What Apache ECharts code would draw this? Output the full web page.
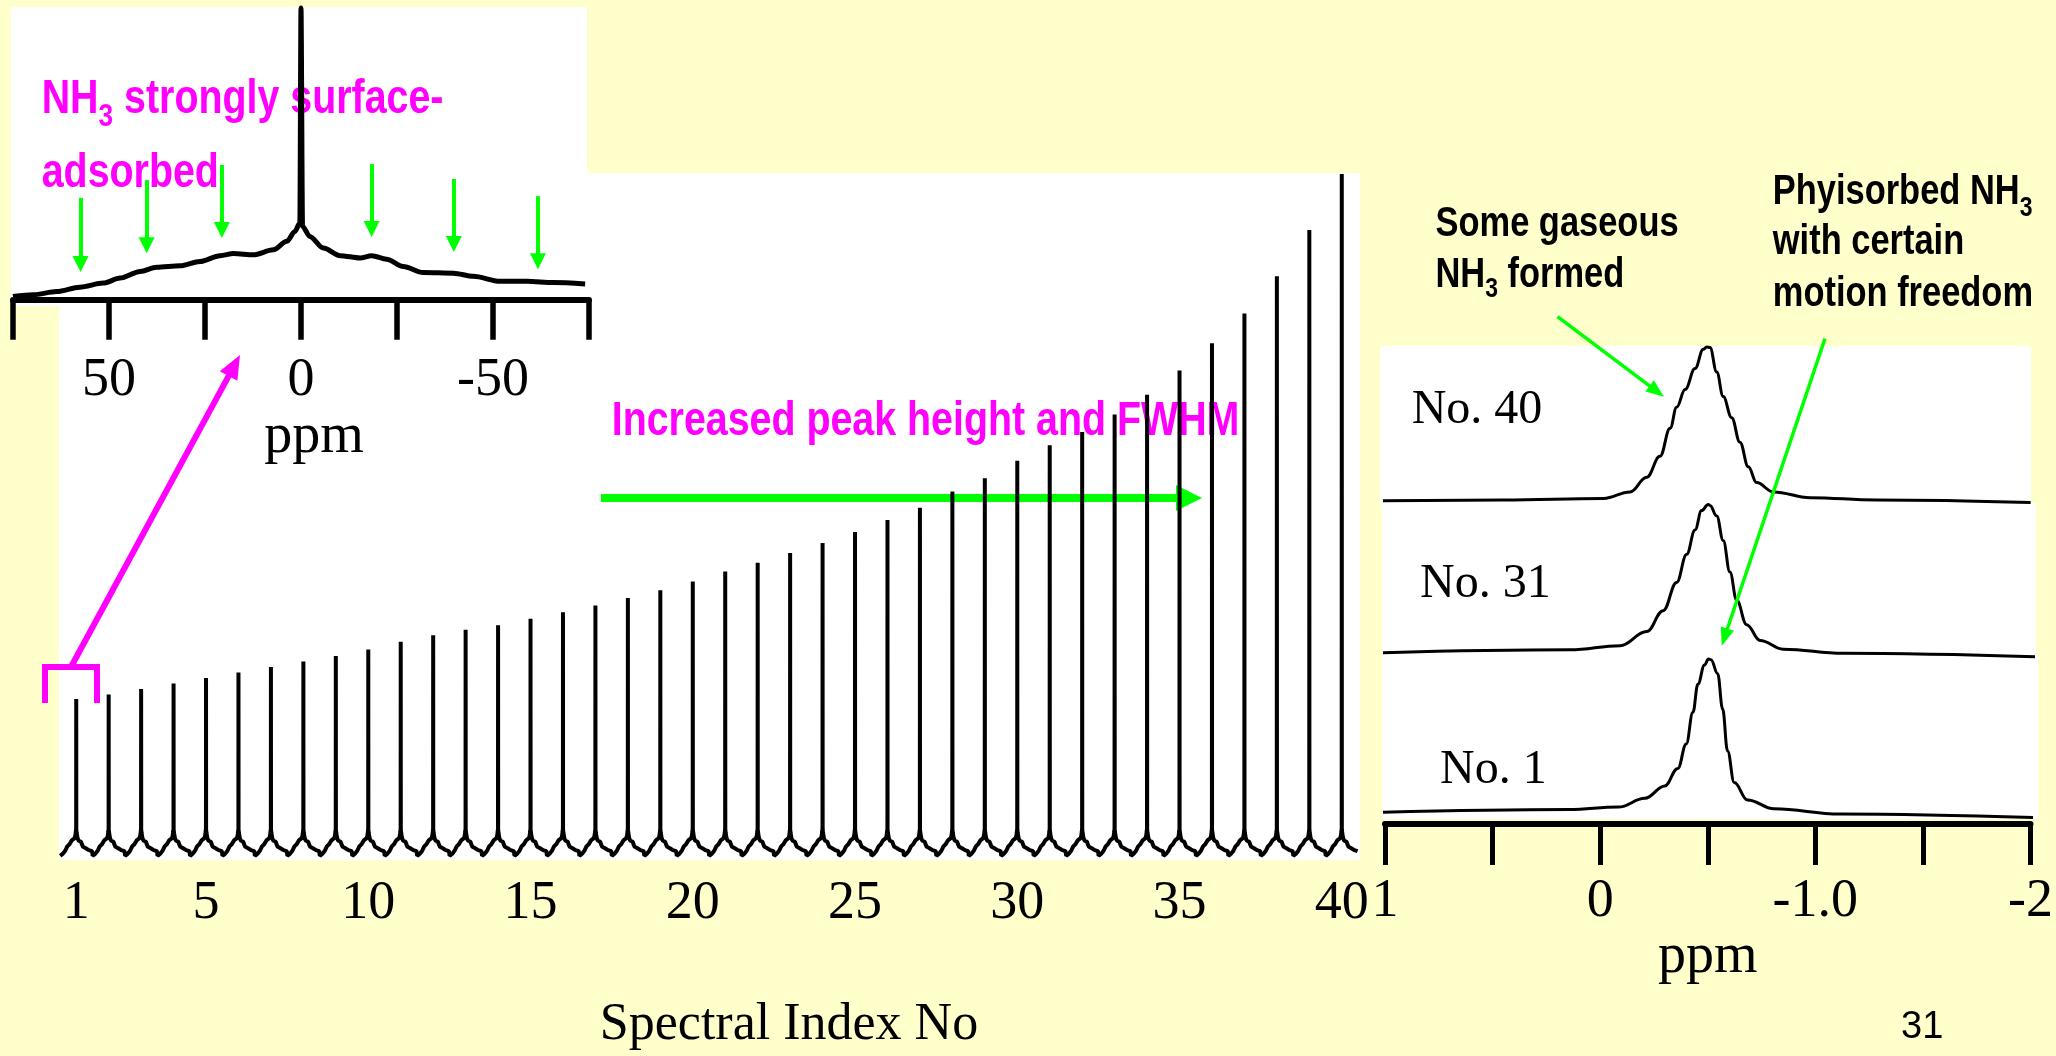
<!DOCTYPE html>
<html><head><meta charset="utf-8">
<script src="https://cdn.jsdelivr.net/npm/echarts@6/dist/echarts.min.js"></script>
<style>html,body{margin:0;padding:0;background:#FFFFCC}#chart{width:2056px;height:1056px}</style>
</head><body><div id="chart"></div>
<script>
// ---------------- data ----------------
const spectrumIndex = [1,2,3,4,5,6,7,8,9,10,11,12,13,14,15,16,17,18,19,20,21,22,23,24,25,26,27,28,29,30,31,32,33,34,35,36,37,38,39,40];
const peakHeights = [144,148,153,158,163,168,173,178,183,189,196,202,207,211,217,223,229,236,243,251,260,268,277,286,296,307,318,333,345,361,375,387,403,421,443,468,495,529,571,622];
const indexTickLabels = [1,5,10,15,20,25,30,35,40];

// inset spectrum (ppm, relative intensity)
const insetPpm = [75,69.7,63.6,57.6,51.5,47.1,41.9,37.6,31.5,26.3,21.1,17.6,12.4,7.2,3.7,1.6,0.3,0,-0.4,-2.3,-5.8,-10.2,-15.4,-18.4,-22.3,-26.6,-31.8,-39.7,-44.9,-51.8,-58.8,-65.7,-74];
const insetIntensity = [1.1,1.7,2.8,4.3,5.7,7.4,9.7,11.1,11.6,13.1,15.1,15.8,15.4,17.1,20.0,23.4,26.3,100,25.1,21.7,17.7,15.1,14.3,15.1,13.9,11.4,9.3,9.1,8.0,6.3,6.3,5.9,5.4];
const insetTickValues = [75,50,25,0,-25,-50,-75];
const insetLabelValues = [50,0,-50];
const insetArrowPpm = [57.4,40.2,20.6,-18.4,-39.8,-61.7];
const insetArrowFrom = [34.9,41.0,46.2,46.5,41.4,35.5];
const insetArrowTo = [12.2,18.7,23.9,24.2,19.1,13.2];

// right panel spectra (ppm, relative intensity)
const no40Ppm = [1.02,0.454,-0.008,-0.131,-0.208,-0.269,-0.316,-0.346,-0.385,-0.431,-0.469,-0.485,-0.500,-0.531,-0.561,-0.600,-0.638,-0.677,-0.715,-0.792,-0.962,-1.269,-1.98];
const no40Int = [1.4,1.9,2.9,7.1,16.5,29.9,47.9,61.4,72.7,86.2,98.5,100,99.7,83.9,68.2,54.7,39.0,23.2,13.1,7.1,3.4,1.9,0.3];
const no31Ppm = [1.015,0.146,-0.085,-0.208,-0.284,-0.346,-0.392,-0.431,-0.461,-0.492,-0.500,-0.531,-0.561,-0.592,-0.623,-0.669,-0.731,-0.838,-1.115,-2.0];
const no31Int = [2.8,4.7,7.4,16.7,30.4,48.9,67.2,83.3,96.0,100,99.4,92.5,76.4,55.7,37.3,21.2,10.9,5.1,2.4,0.1];
const no1Ppm = [1.015,0.146,-0.085,-0.208,-0.300,-0.361,-0.400,-0.431,-0.454,-0.485,-0.503,-0.515,-0.546,-0.569,-0.592,-0.623,-0.685,-0.808,-1.115,-2.015];
const no1Int = [6.8,8.5,10.0,15.3,22.8,33.5,48.4,67.6,84.6,96.4,100,99.6,91.1,69.7,44.1,24.9,14.3,8.9,5.8,3.6];
const rightTickValues = [1,0.5,0,-0.5,-1,-1.5,-2];
const rightLabelValues = [1,0,-1,-2];

// ---------------- helpers ----------------
const SANS = '"Liberation Sans", Arial, sans-serif';
const SERIF = '"Liberation Serif", "Times New Roman", serif';
const MAG = '#FF00FF', GRN = '#00FF00';
const mctx = document.createElement('canvas').getContext('2d');
function tw(t, font){ mctx.font = font; return mctx.measureText(t).width; }
function textRun(x, baseline, parts, o){
  const out = []; let adv = 0;
  for (const [t, sub] of parts){
    const size = sub ? o.subSize : o.size;
    const font = (o.weight || 'normal') + ' ' + size + 'px ' + o.family;
    const bl = baseline + (sub ? o.subDrop : 0);
    out.push({type:'text', x: x + adv * (o.sx || 1), y: bl - o.mid * size, scaleX: o.sx || 1, scaleY: o.sy || 1, z: o.z, silent: true,
      style:{text: t, font: font, fill: o.color, align:'left', textAlign:'left', verticalAlign:'middle', textVerticalAlign:'middle'}});
    adv += tw(t, font);
  }
  return out;
}
function arrow(x1, y1, x2, y2, color, w, hl, hw, z){
  const dx = x2 - x1, dy = y2 - y1, L = Math.hypot(dx, dy), ux = dx / L, uy = dy / L;
  const bx = x2 - ux * hl, by = y2 - uy * hl, px = -uy, py = ux;
  return [
    {type:'line', z: z, silent:true, shape:{x1:x1, y1:y1, x2:bx + ux * 2, y2:by + uy * 2}, style:{stroke:color, lineWidth:w}},
    {type:'polygon', z: z, silent:true, shape:{points:[[x2,y2],[bx + px*hw/2, by + py*hw/2],[bx - px*hw/2, by - py*hw/2]]}, style:{fill:color}}
  ];
}

// main stacked spectra: the inset line shape repeated for each index, apex = peak height
const mainData = [];
spectrumIndex.forEach((idx, k) => {
  insetPpm.forEach((p, j) => {
    mainData.push([idx - p / 152, p === 0 ? peakHeights[k] : insetIntensity[j]]);
  });
});
const insetData = insetPpm.map((p, j) => [p, insetIntensity[j]]);
const no40Data = no40Ppm.map((p, j) => [p, no40Int[j]]);
const no31Data = no31Ppm.map((p, j) => [p, no31Int[j]]);
const no1Data = no1Ppm.map((p, j) => [p, no1Int[j]]);
const insetArrows = insetArrowPpm.map((p, j) => [{coord:[p, insetArrowFrom[j]]}, {coord:[p, insetArrowTo[j]]}]);

const labelStyle = {fontSize:54, fontFamily:SERIF, color:'#000'};
const hiddenX = (g) => ({gridIndex:g, type:'value', min:-2, max:1, inverse:true, show:false});

// ---------------- graphics ----------------
const g = [];
// white panels
g.push({type:'rect', z:-1, silent:true, shape:{x:59, y:173, width:1301, height:687}, style:{fill:'#fff'}});
g.push({type:'rect', z:-1, silent:true, shape:{x:11, y:7, width:576, height:299}, style:{fill:'#fff'}});
g.push({type:'rect', z:-1, silent:true, shape:{x:1380, y:346, width:651, height:157}, style:{fill:'#fff'}});
g.push({type:'rect', z:-1, silent:true, shape:{x:1382, y:503, width:654, height:151}, style:{fill:'#fff'}});
g.push({type:'rect', z:-1, silent:true, shape:{x:1382, y:654, width:656, height:165}, style:{fill:'#fff'}});

const magOpt = {size:48, subSize:32, subDrop:12, family:SANS, weight:'bold', color:MAG, sx:0.82, mid:0.33, z:1};
g.push(...textRun(41.7, 116, [['NH',0],['3',1],[' strongly surface-',0]], magOpt));
g.push(...textRun(41.7, 190, [['adsorbed',0]], magOpt));
g.push(...textRun(611.7, 437.3, [['Increased peak height and FWHM',0]], magOpt));

const blkOpt = {size:42, subSize:28, subDrop:9, family:SANS, weight:'bold', color:'#000', sx:0.82, mid:0.33, z:100};
g.push(...textRun(1435.5, 238.3, [['Some gaseous',0]], blkOpt));
g.push(...textRun(1435.5, 289.3, [['NH',0],['3',1],[' formed',0]], blkOpt));
g.push(...textRun(1772.8, 206.7, [['Phyisorbed NH',0],['3',1]], Object.assign({}, blkOpt, {subDrop:11})));
g.push(...textRun(1772.8, 256.7, [['with certain',0]], blkOpt));
g.push(...textRun(1772.8, 308.3, [['motion freedom',0]], blkOpt));

const serOpt = {size:48, family:SERIF, color:'#000', sx:1, mid:0.33, z:100};
g.push(...textRun(1411.7, 426.5, [['No. 40',0]], serOpt));
g.push(...textRun(1420, 600.1, [['No. 31',0]], serOpt));
g.push(...textRun(1440, 786, [['No. 1',0]], serOpt));
g.push(...textRun(1901, 1040, [['31',0]], {size:38, family:SANS, color:'#000', sx:1, mid:0.33, z:100}));

// bracket + arrows
g.push({type:'polyline', z:100, silent:true, shape:{points:[[45,703],[45,667],[97,667],[97,703]]}, style:{stroke:MAG, lineWidth:6, fill:null}});
g.push(...arrow(71, 667, 240, 355, MAG, 6, 24, 20, 100));
g.push(...arrow(601, 498, 1202, 498, GRN, 8, 26, 26, 1));
g.push(...arrow(1557.5, 316.7, 1664, 396.7, GRN, 3.5, 18, 14, 100));
g.push(...arrow(1825, 338.5, 1721.7, 645.7, GRN, 3.5, 18, 14, 100));

const option = {
  backgroundColor:'#FFFFCC',
  animation:false,
  grid:[
    {left:60, top:173, width:1298, height:687},
    {left:13, top:8, width:576, height:299},
    {left:1385, top:347, width:650, height:156},
    {left:1385, top:504.5, width:650, height:152.5},
    {left:1385, top:659, width:650, height:164.5}
  ],
  xAxis:[
    {gridIndex:0, type:'value', min:0.5, max:40.5, axisLine:{show:false}, axisTick:{show:false}, splitLine:{show:false},
     axisLabel:Object.assign({customValues:indexTickLabels, margin:20}, labelStyle),
     name:'Spectral Index No', nameLocation:'middle', nameGap:142,
     nameTextStyle:{fontSize:52, fontFamily:SERIF, color:'#000', padding:[0,0,0,160]}},
    {gridIndex:1, type:'value', min:-75, max:75, inverse:true, interval:25, splitLine:{show:false},
     axisLine:{lineStyle:{color:'#000', width:6}},
     axisTick:{customValues:insetTickValues, length:40, lineStyle:{color:'#000', width:5.5}},
     axisLabel:Object.assign({customValues:insetLabelValues, margin:47}, labelStyle),
     name:'ppm', nameLocation:'middle', nameGap:83,
     nameTextStyle:{fontSize:56, fontFamily:SERIF, color:'#000', padding:[0,0,0,26]}},
    hiddenX(2), hiddenX(3),
    {gridIndex:4, type:'value', min:-2, max:1, inverse:true, splitLine:{show:false},
     axisLine:{lineStyle:{color:'#000', width:6}},
     axisTick:{customValues:rightTickValues, length:41.5, lineStyle:{color:'#000', width:5}},
     axisLabel:Object.assign({customValues:rightLabelValues, margin:51, formatter:(v) => (v === -1 ? '-1.0' : String(v))}, labelStyle),
     name:'ppm', nameLocation:'middle', nameGap:95,
     nameTextStyle:{fontSize:56, fontFamily:SERIF, color:'#000'}}
  ],
  yAxis:[
    {gridIndex:0, type:'value', min:0, max:623, show:false},
    {gridIndex:1, type:'value', min:-2.5, max:100, show:false},
    {gridIndex:2, type:'value', min:0, max:100, show:false},
    {gridIndex:3, type:'value', min:0, max:100, show:false},
    {gridIndex:4, type:'value', min:0, max:100, show:false}
  ],
  series:[
    {type:'line', xAxisIndex:0, yAxisIndex:0, data:mainData, symbol:'none', clip:false, silent:true,
     lineStyle:{color:'#000', width:4}},
    {type:'line', xAxisIndex:1, yAxisIndex:1, data:insetData, symbol:'none', clip:false, silent:true, smooth:0.3, smoothMonotone:'x',
     lineStyle:{color:'#000', width:5},
     markLine:{silent:true, symbol:['none','triangle'], symbolSize:16, label:{show:false},
       lineStyle:{color:GRN, width:4, type:'solid'}, emphasis:{disabled:true}, data:insetArrows}},
    {type:'line', xAxisIndex:2, yAxisIndex:2, data:no40Data, symbol:'none', clip:false, silent:true, smooth:0.4, smoothMonotone:'x',
     lineStyle:{color:'#000', width:3}},
    {type:'line', xAxisIndex:3, yAxisIndex:3, data:no31Data, symbol:'none', clip:false, silent:true, smooth:0.4, smoothMonotone:'x',
     lineStyle:{color:'#000', width:3}},
    {type:'line', xAxisIndex:4, yAxisIndex:4, data:no1Data, symbol:'none', clip:false, silent:true, smooth:0.4, smoothMonotone:'x',
     lineStyle:{color:'#000', width:3}}
  ],
  graphic:{elements:g}
};
const chart = echarts.init(document.getElementById('chart'), null, {renderer:'canvas'});
chart.setOption(option);
</script></body></html>
